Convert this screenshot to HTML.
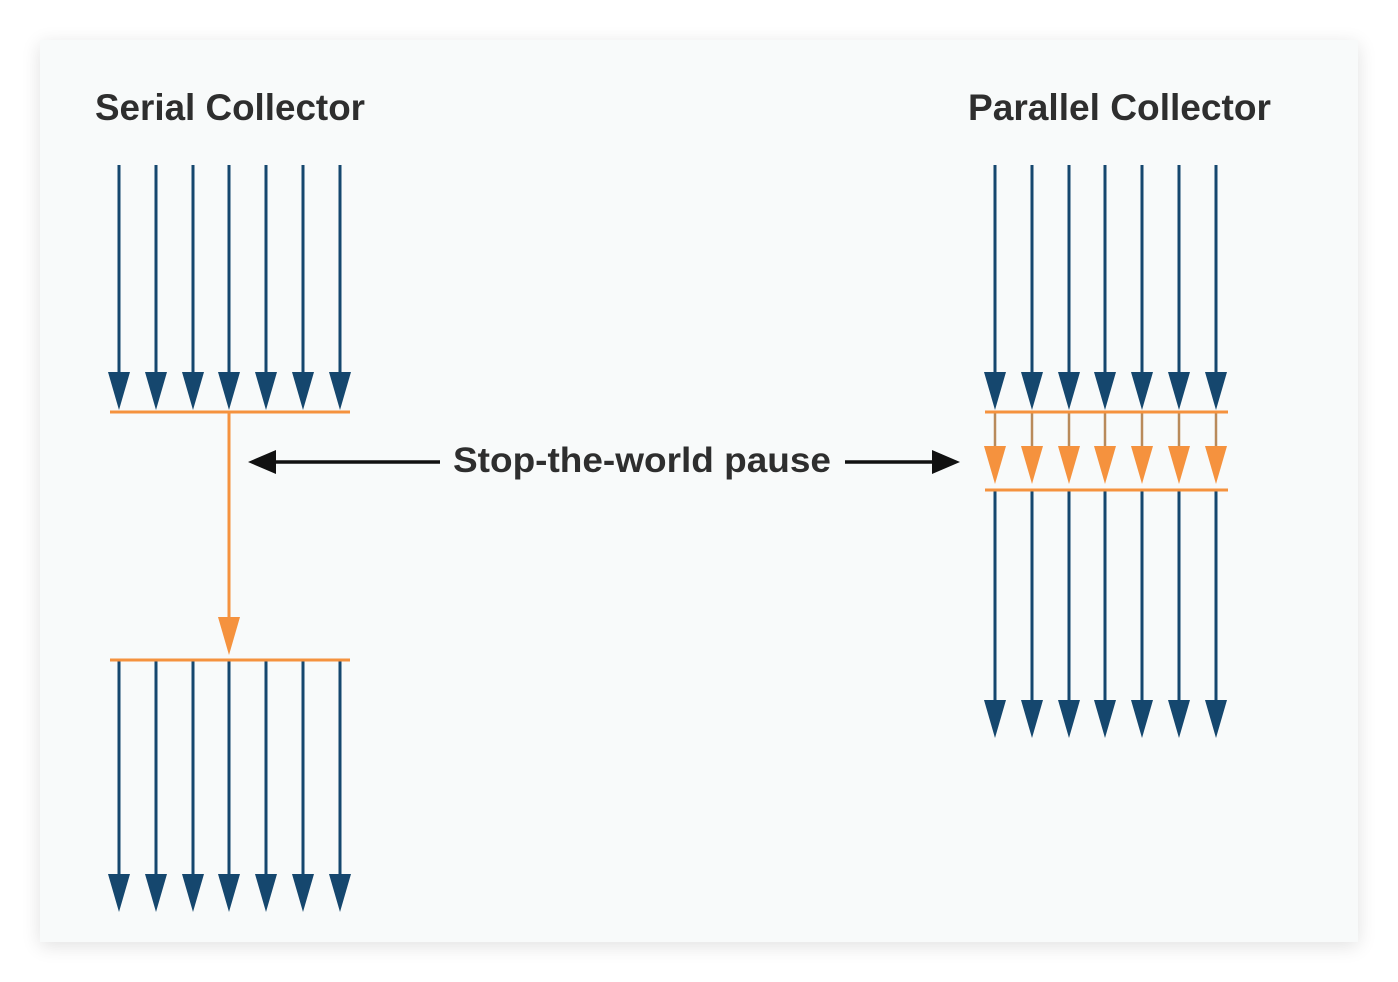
<!DOCTYPE html>
<html><head><style>
html,body{margin:0;padding:0;background:#fff;width:1398px;height:982px;overflow:hidden}
.card{position:absolute;left:40px;top:40px;width:1318px;height:902px;background:#f8fafa;box-shadow:0 4px 18px rgba(0,0,0,0.12)}
svg{position:absolute;left:0;top:0}
text{font-family:"Liberation Sans",sans-serif;font-weight:bold;fill:#2e2e2e}
</style></head><body>
<div class="card"></div>
<svg width="1398" height="982" viewBox="0 0 1398 982">
<defs>
<g id="blueDown"><polygon points="-11,-38 11,-38 0,0" fill="#15476e"/></g>
<g id="orDown"><polygon points="-11,-38 11,-38 0,0" fill="#f5923e"/></g>
</defs>
<text x="95" y="120" font-size="37" textLength="270" lengthAdjust="spacingAndGlyphs">Serial Collector</text>
<text x="968" y="120" font-size="37" textLength="303" lengthAdjust="spacingAndGlyphs">Parallel Collector</text>
<text x="453" y="472" font-size="35" textLength="378" lengthAdjust="spacingAndGlyphs">Stop-the-world pause</text>
<!-- black arrows -->
<line x1="440" y1="462" x2="262" y2="462" stroke="#111" stroke-width="3.5"/>
<polygon points="248,462 276,450 276,474" fill="#111"/>
<line x1="845" y1="462" x2="945" y2="462" stroke="#111" stroke-width="3.5"/>
<polygon points="960,462 932,450 932,474" fill="#111"/>
<!-- serial -->
<g stroke="#15476e" stroke-width="3">
<line x1="119" y1="165" x2="119" y2="400"/><line x1="156" y1="165" x2="156" y2="400"/><line x1="193" y1="165" x2="193" y2="400"/><line x1="229" y1="165" x2="229" y2="400"/><line x1="266" y1="165" x2="266" y2="400"/><line x1="303" y1="165" x2="303" y2="400"/><line x1="340" y1="165" x2="340" y2="400"/>
<line x1="119" y1="660" x2="119" y2="900"/><line x1="156" y1="660" x2="156" y2="900"/><line x1="193" y1="660" x2="193" y2="900"/><line x1="229" y1="660" x2="229" y2="900"/><line x1="266" y1="660" x2="266" y2="900"/><line x1="303" y1="660" x2="303" y2="900"/><line x1="340" y1="660" x2="340" y2="900"/>
</g>
<g>
<use href="#blueDown" x="119" y="410"/><use href="#blueDown" x="156" y="410"/><use href="#blueDown" x="193" y="410"/><use href="#blueDown" x="229" y="410"/><use href="#blueDown" x="266" y="410"/><use href="#blueDown" x="303" y="410"/><use href="#blueDown" x="340" y="410"/>
<use href="#blueDown" x="119" y="912"/><use href="#blueDown" x="156" y="912"/><use href="#blueDown" x="193" y="912"/><use href="#blueDown" x="229" y="912"/><use href="#blueDown" x="266" y="912"/><use href="#blueDown" x="303" y="912"/><use href="#blueDown" x="340" y="912"/>
</g>
<line x1="110" y1="412" x2="350" y2="412" stroke="#f5923e" stroke-width="3"/>
<line x1="229" y1="412" x2="229" y2="630" stroke="#f5923e" stroke-width="3"/>
<use href="#orDown" x="229" y="655"/>
<line x1="110" y1="660" x2="350" y2="660" stroke="#f5923e" stroke-width="3"/>
<!-- parallel -->
<g stroke="#15476e" stroke-width="3">
<line x1="995" y1="165" x2="995" y2="400"/><line x1="1032" y1="165" x2="1032" y2="400"/><line x1="1069" y1="165" x2="1069" y2="400"/><line x1="1105" y1="165" x2="1105" y2="400"/><line x1="1142" y1="165" x2="1142" y2="400"/><line x1="1179" y1="165" x2="1179" y2="400"/><line x1="1216" y1="165" x2="1216" y2="400"/>
<line x1="995" y1="490" x2="995" y2="725"/><line x1="1032" y1="490" x2="1032" y2="725"/><line x1="1069" y1="490" x2="1069" y2="725"/><line x1="1105" y1="490" x2="1105" y2="725"/><line x1="1142" y1="490" x2="1142" y2="725"/><line x1="1179" y1="490" x2="1179" y2="725"/><line x1="1216" y1="490" x2="1216" y2="725"/>
</g>
<g stroke="#b98a5a" stroke-width="2.5">
<line x1="995" y1="412" x2="995" y2="470"/><line x1="1032" y1="412" x2="1032" y2="470"/><line x1="1069" y1="412" x2="1069" y2="470"/><line x1="1105" y1="412" x2="1105" y2="470"/><line x1="1142" y1="412" x2="1142" y2="470"/><line x1="1179" y1="412" x2="1179" y2="470"/><line x1="1216" y1="412" x2="1216" y2="470"/>
</g>
<g>
<use href="#blueDown" x="995" y="410"/><use href="#blueDown" x="1032" y="410"/><use href="#blueDown" x="1069" y="410"/><use href="#blueDown" x="1105" y="410"/><use href="#blueDown" x="1142" y="410"/><use href="#blueDown" x="1179" y="410"/><use href="#blueDown" x="1216" y="410"/>
<use href="#orDown" x="995" y="484"/><use href="#orDown" x="1032" y="484"/><use href="#orDown" x="1069" y="484"/><use href="#orDown" x="1105" y="484"/><use href="#orDown" x="1142" y="484"/><use href="#orDown" x="1179" y="484"/><use href="#orDown" x="1216" y="484"/>
<use href="#blueDown" x="995" y="738"/><use href="#blueDown" x="1032" y="738"/><use href="#blueDown" x="1069" y="738"/><use href="#blueDown" x="1105" y="738"/><use href="#blueDown" x="1142" y="738"/><use href="#blueDown" x="1179" y="738"/><use href="#blueDown" x="1216" y="738"/>
</g>
<line x1="985" y1="412" x2="1228" y2="412" stroke="#f5923e" stroke-width="3"/>
<line x1="985" y1="490" x2="1228" y2="490" stroke="#f5923e" stroke-width="3"/>
</svg>
</body></html>
